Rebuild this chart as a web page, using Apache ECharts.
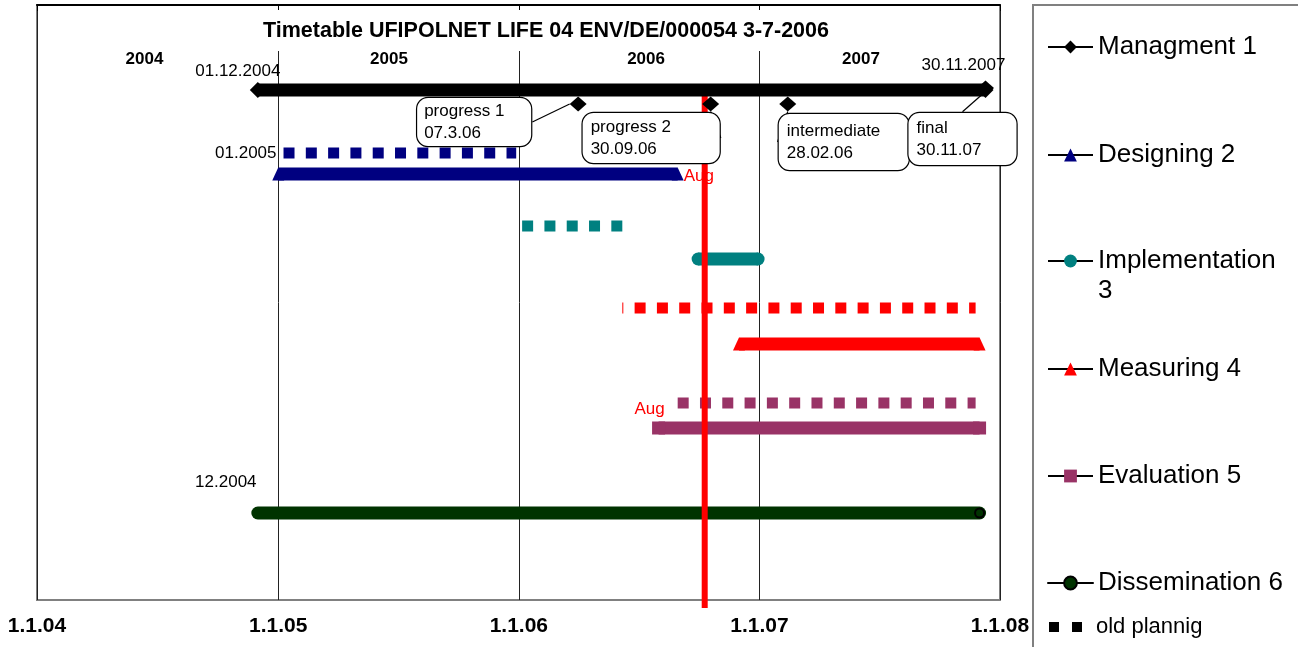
<!DOCTYPE html>
<html>
<head>
<meta charset="utf-8">
<title>Timetable UFIPOLNET</title>
<script src="https://cdn.jsdelivr.net/npm/echarts@6/dist/echarts.min.js"></script>
<style>
  html, body { margin: 0; padding: 0; background: #fff; }
  #chart { width: 1298px; height: 647px; }
</style>
</head>
<body>
<div id="chart"></div>
<script>
// Time span of the x axis
const axisMin = '2004-01-01';
const axisMax = '2008-01-01';

// Work packages (actual plan). Lanes are vertical positions, 0 = top of plot.
const taskNames = ['Managment 1', 'Designing 2', 'Implementation 3', 'Measuring 4', 'Evaluation 5', 'Dissemination 6'];
const taskLanes = [85, 169, 254, 339, 423, 508];
const taskStart = ['2004-12-01', '2005-01-01', '2006-09-30', '2006-12-01', '2006-08-01', '2004-12-01'];
const taskEnd = ['2007-12-10', '2006-08-30', '2006-12-30', '2007-12-01', '2007-12-01', '2007-12-01'];
const taskStartNotes = ['01.12.2004', '', '', '', '', '12.2004'];
const taskEndNotes = ['30.11.2007', 'Aug', '', '', '', ''];

// Old planning (dotted)
const oldLanes = [148, 221, 303, 398];
const oldStart = ['2005-01-09', '2006-01-06', '2006-06-07', '2006-08-30'];
const oldEnd = ['2005-12-28', '2006-06-07', '2007-11-25', '2007-11-25'];
const oldStartNotes = ['01.2005', '', '', 'Aug'];

// Milestones (callouts)
const milestoneNames = ['progress 1\n07.3.06', 'progress 2\n30.09.06', 'intermediate\n28.02.06', 'final\n30.11.07'];
const milestoneDates = ['2006-04-01', '2006-10-19', '2007-02-13', '2007-12-10'];
const milestoneLanes = [99, 99, 99, 83];

// Year captions at the top
const yearLabels = ['2004', '2005', '2006', '2007'];
const yearLabelDates = ['2004-06-12', '2005-06-18', '2006-07-13', '2007-06-04'];
const yearLabelLane = 54;

// Status line
const todayDate = '2006-10-10';
const todayLanes = [83, 603];

// ---- styles ----
const FONT = '"Liberation Sans", Arial, Helvetica, sans-serif';
const DAY = 24 * 3600 * 1000;
const taskColors = ['#000000', '#000080', '#008080', '#ff0000', '#993366', '#003300'];
const taskSymbols = ['diamond', 'triangle', 'circle', 'triangle', 'rect', 'circle'];
const taskSymbolSizes = [16, [12, 13], 13, [12, 13], 13, 9];
const taskZ = [6, 3, 3, 3, 3, 3];
const oldColors = ['#000080', '#008080', '#ff0000', '#993366'];
const oldDashOffset = [0, 0, 10, 0];

const noteStartStyle = [
  { position: 'top', offset: [-20, 3] },
  null, null, null, null,
  { position: 'top', offset: [-32, -17] }
];
const noteEndStyle = [
  { position: 'top', offset: [-22, -3] },
  { position: 'right', distance: 0, offset: [0, 2], color: '#ff0000' },
  null, null, null, null
];
const oldNoteStyle = [
  { position: 'left', distance: 7 },
  null, null,
  { position: 'left', distance: 13, offset: [0, 6], color: '#ff0000' }
];

// callout boxes: content width and padding, shift from the marker
const calloutBox = [
  { width: 100, padding: [2, 7, 2, 7] },
  { width: 121, padding: [3, 8, 3, 8] },
  { width: 114, padding: [3, 8, 9, 8] },
  { width: 92, padding: [3, 8, 5, 8] }
];
const calloutShift = [
  { dx: -161, dy: 18 },
  { dx: -128, dy: 34 },
  { dx: -9, dy: 38 },
  { dx: -77, dy: 51 }
];

function note(text, style) {
  if (!text) return { show: false };
  return Object.assign({
    show: true,
    formatter: text,
    fontSize: 17,
    color: '#000',
    fontFamily: FONT
  }, style);
}

const series = [];

// old planning (dotted); invisible symbols keep the start labels alive
oldLanes.forEach((lane, i) => {
  series.push({
    name: 'old ' + i,
    type: 'line',
    symbol: 'circle',
    symbolSize: 0,
    showSymbol: true,
    clip: false,
    silent: true,
    z: 2,
    lineStyle: {
      color: oldColors[i],
      width: 11,
      type: [11, 11.3],
      dashOffset: oldDashOffset[i],
      cap: 'butt'
    },
    data: [
      { value: [oldStart[i], lane], label: note(oldStartNotes[i], oldNoteStyle[i]) },
      { value: [oldEnd[i], lane] }
    ]
  });
});

// actual plan
taskNames.forEach((name, i) => {
  const isDiss = i === 5;
  series.push({
    name: name,
    type: 'line',
    symbol: taskSymbols[i],
    symbolSize: taskSymbolSizes[i],
    showSymbol: true,
    clip: false,
    silent: true,
    z: taskZ[i],
    itemStyle: isDiss
      ? { color: taskColors[i], borderColor: '#000', borderWidth: 2 }
      : { color: taskColors[i] },
    lineStyle: { color: taskColors[i], width: 13, cap: isDiss ? 'round' : 'butt' },
    data: [
      {
        value: [taskStart[i], taskLanes[i]],
        symbolSize: isDiss ? 0 : taskSymbolSizes[i],
        label: note(taskStartNotes[i], noteStartStyle[i])
      },
      {
        value: [taskEnd[i], taskLanes[i]],
        label: note(taskEndNotes[i], noteEndStyle[i])
      }
    ]
  });
});

// status line
series.push({
  name: 'today',
  type: 'line',
  symbol: 'none',
  clip: false,
  silent: true,
  z: 4,
  lineStyle: { color: '#ff0000', width: 6, cap: 'butt' },
  data: todayLanes.map((lane) => [todayDate, lane])
});

// milestones with callouts
series.push({
  name: 'milestones',
  type: 'scatter',
  symbol: 'diamond',
  symbolSize: [17, 15],
  clip: false,
  silent: true,
  z: 7,
  itemStyle: { color: '#000', opacity: 1 },
  label: {
    show: true,
    position: 'inside',
    align: 'left',
    verticalAlign: 'middle',
    formatter: (p) => p.name,
    fontSize: 17,
    lineHeight: 22,
    color: '#000',
    fontFamily: FONT,
    backgroundColor: '#fff',
    borderColor: '#000',
    borderWidth: 1.2,
    borderRadius: 11
  },
  labelLine: { show: true, lineStyle: { color: '#000', width: 1.2 } },
  labelLayout: (p) => calloutShift[p.dataIndex],
  data: milestoneDates.map((d, i) => ({
    name: milestoneNames[i],
    value: [d, milestoneLanes[i]],
    label: calloutBox[i]
  }))
});

// year captions
series.push({
  name: 'years',
  type: 'scatter',
  symbolSize: 0,
  silent: true,
  z: 5,
  itemStyle: { opacity: 1 },
  label: {
    show: true,
    position: 'inside',
    formatter: (p) => p.name,
    fontSize: 17,
    fontWeight: 'bold',
    color: '#000',
    fontFamily: FONT
  },
  data: yearLabels.map((y, i) => ({ name: y, value: [yearLabelDates[i], yearLabelLane] }))
});

// legend-only entry
series.push({ name: 'old plannig', type: 'line', data: [] });

// legends, one per entry so each can sit on its own row
const legendRows = [47, 155, 261, 369, 476, 583];
const legendLine = 30;
const legends = taskNames.map((name, i) => {
  const twoLines = name === 'Implementation 3';
  return {
    data: [name],
    left: 1047,
    // the two-line entry gets a blank first line so its first text line meets the icon
    top: legendRows[i] - (twoLines ? legendLine * 1.5 : legendLine / 2),
    padding: 0,
    orient: 'vertical',
    selectedMode: false,
    itemWidth: 45,
    itemHeight: 16,
    lineStyle: { color: '#000', width: 2 },
    formatter: twoLines ? ' \nImplementation\n3' : '{name}',
    textStyle: {
      fontSize: 26,
      lineHeight: legendLine,
      color: '#000',
      fontFamily: FONT
    }
  };
});
legends.push({
  data: ['old plannig'],
  left: 1049,
  top: 627 - 12,
  padding: 0,
  selectedMode: false,
  icon: 'path://M0,0h10v10h-10zM23,0h10v10h-10z',
  itemWidth: 33,
  itemHeight: 10,
  itemStyle: { color: '#000' },
  textStyle: { fontSize: 22, lineHeight: 24, color: '#000', fontFamily: FONT, padding: [0, 0, 0, 9] }
});

const option = {
  animation: false,
  backgroundColor: '#fff',
  textStyle: { fontFamily: FONT },
  title: {
    text: 'Timetable UFIPOLNET LIFE 04 ENV/DE/000054 3-7-2006',
    left: 255,
    top: 10,
    padding: [10, 8, 9, 8],
    backgroundColor: '#fff',
    textStyle: { fontSize: 21.5, fontWeight: 'bold', color: '#000', fontFamily: FONT }
  },
  legend: legends,
  grid: {
    left: 37,
    right: 298,
    top: 5,
    bottom: 47,
    show: true,
    borderColor: '#808080',
    borderWidth: 2,
    backgroundColor: 'transparent'
  },
  xAxis: {
    type: 'time',
    min: axisMin,
    max: axisMax,
    minInterval: 365 * DAY,
    maxInterval: 366 * DAY,
    axisLine: { show: true, lineStyle: { color: '#000', width: 2 } },
    axisTick: { show: true, length: 6, lineStyle: { color: '#000' } },
    minorTick: { show: false },
    splitLine: { show: true, lineStyle: { color: '#222', width: 1 } },
    axisLabel: {
      formatter: (v) => '1.1.' + String(new Date(v).getFullYear()).slice(2),
      fontSize: 21,
      fontWeight: 'bold',
      color: '#000',
      margin: 16,
      showMinLabel: true,
      showMaxLabel: true,
      hideOverlap: false,
      fontFamily: FONT
    }
  },
  yAxis: {
    type: 'value',
    inverse: true,
    min: 0,
    max: 595,
    show: false
  },
  graphic: [{
    type: 'rect',
    silent: true,
    shape: { x: 1033, y: 5, width: 300, height: 700 },
    style: { fill: 'none', stroke: '#808080', lineWidth: 2 }
  }],
  series: series
};

const chart = echarts.init(document.getElementById('chart'));
chart.setOption(option);
window.addEventListener('resize', () => chart.resize());
</script>
</body>
</html>
